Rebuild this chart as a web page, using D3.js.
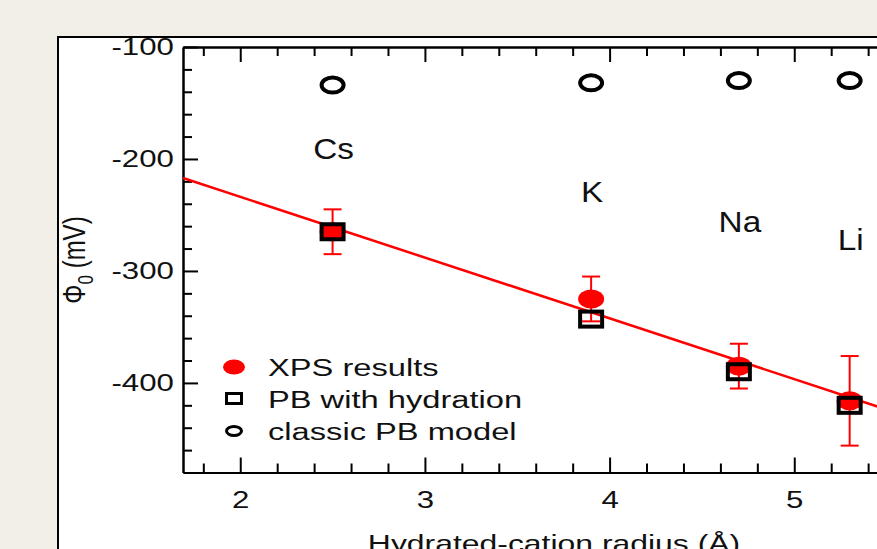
<!DOCTYPE html>
<html>
<head>
<meta charset="utf-8">
<script src="https://cdn.jsdelivr.net/npm/d3@7"></script>
<style>
  body { margin: 0; background: #f2efe9; }
  svg { display: block; font-family: "Liberation Sans", Arial, sans-serif; }
</style>
</head>
<body>
<div id="chart"></div>
<script>
// data
let ions = ["Cs", "K", "Na", "Li"];
let radius = [2.5, 3.9, 4.7, 5.3];
let xps = [-265, -325, -385, -416];
let xpsErr = [20, 20, 20, 40];
let pbHydration = [-265, -343, -390, -420];
let pbClassic = [-134, -132, -130, -130];
let fitX = [1.69, 5.8];
let fitY = [-217, -440];
let xTicks = [2, 3, 4, 5];
let yTicks = [-100, -200, -300, -400];
let ionLabelY = [-200, -238, -265, -281];
let legendNames = ["XPS results", "PB with hydration", "classic PB model"];

let width = 877, height = 549;

let svg = d3.select("#chart").append("svg")
  .attr("width", width)
  .attr("height", height);

// white figure panel
svg.append("rect")
  .attr("x", 58).attr("y", 37)
  .attr("width", 900).attr("height", 600)
  .attr("fill", "white")
  .attr("stroke", "black")
  .attr("stroke-width", 2);

let x = d3.scaleLinear().domain([1.69, 5.8]).range([183, 942]);
let y = d3.scaleLinear().domain([-480, -100]).range([472.5, 47]);

let xMinor = d3.range(1.8, 5.8, 0.2).filter(v => Math.abs(v - Math.round(v)) > 0.01);
let yMinor = d3.range(-460, -100, 20).filter(v => v % 100 != 0);

function styleAxis(g) {
  g.selectAll("path").attr("stroke-width", 2);
  g.selectAll("line").attr("stroke-width", 2);
}

// bottom axis
let gx = svg.append("g").attr("transform", "translate(0," + y(-480) + ")");
gx.call(d3.axisBottom(x).tickValues(xTicks).tickSize(-15).tickSizeOuter(0).tickPadding(18).tickFormat(d => String(d)))
  .call(styleAxis);
gx.selectAll("text").attr("font-size", 24).attr("font-family", "Liberation Sans, Arial, sans-serif")
  .attr("fill", "#111").attr("transform", "scale(1.3,1)");
svg.append("g").attr("transform", "translate(0," + y(-480) + ")")
  .call(d3.axisBottom(x).tickValues(xMinor).tickSize(-9).tickSizeOuter(0).tickFormat(""))
  .call(styleAxis);

// top axis
svg.append("g").attr("transform", "translate(0," + y(-100) + ")")
  .call(d3.axisTop(x).tickValues(xTicks).tickSize(-15).tickSizeOuter(0).tickFormat(""))
  .call(styleAxis);
svg.append("g").attr("transform", "translate(0," + y(-100) + ")")
  .call(d3.axisTop(x).tickValues(xMinor).tickSize(-9).tickSizeOuter(0).tickFormat(""))
  .call(styleAxis);

// left axis
let gy = svg.append("g").attr("transform", "translate(" + x(1.69) + ",0)");
gy.call(d3.axisLeft(y).tickValues(yTicks).tickSize(-15).tickSizeOuter(0).tickPadding(7).tickFormat(d => String(d)))
  .call(styleAxis);
gy.selectAll("text").attr("font-size", 24).attr("font-family", "Liberation Sans, Arial, sans-serif")
  .attr("fill", "#111").attr("transform", "scale(1.3,1)");
svg.append("g").attr("transform", "translate(" + x(1.69) + ",0)")
  .call(d3.axisLeft(y).tickValues(yMinor).tickSize(-9).tickSizeOuter(0).tickFormat(""))
  .call(styleAxis);

// axis titles
svg.append("text")
  .attr("transform", "translate(554,552) scale(1.33,1)")
  .attr("text-anchor", "middle")
  .attr("font-size", 24)
  .attr("fill", "#111")
  .text("Hydrated-cation radius (Å)");

let yl = svg.append("text")
  .attr("transform", "translate(85,260) scale(1.3,1) rotate(-90)")
  .attr("text-anchor", "middle")
  .attr("font-size", 24)
  .attr("fill", "#111");
yl.append("tspan").text("Φ");
yl.append("tspan").attr("font-size", 17).attr("dy", 6).text("0");
yl.append("tspan").attr("dy", -6).text(" (mV)");

// fitted line
svg.append("path")
  .datum(d3.zip(fitX, fitY))
  .attr("d", d3.line().x(d => x(d[0])).y(d => y(d[1])))
  .attr("stroke", "#ff0000")
  .attr("stroke-width", 2.5)
  .attr("fill", "none");

let pts = ions.map((n, i) => ({
  name: n, r: radius[i], xps: xps[i], err: xpsErr[i],
  pb: pbHydration[i], cl: pbClassic[i], ly: ionLabelY[i]
}));

// error bars
let eb = svg.append("g").attr("stroke", "#ff0000").attr("stroke-width", 2);
eb.selectAll(".v").data(pts).enter().append("line")
  .attr("x1", d => x(d.r)).attr("x2", d => x(d.r))
  .attr("y1", d => y(d.xps + d.err)).attr("y2", d => y(d.xps - d.err));
eb.selectAll(".t").data(pts).enter().append("line")
  .attr("x1", d => x(d.r) - 9).attr("x2", d => x(d.r) + 9)
  .attr("y1", d => y(d.xps + d.err)).attr("y2", d => y(d.xps + d.err));
eb.selectAll(".b").data(pts).enter().append("line")
  .attr("x1", d => x(d.r) - 9).attr("x2", d => x(d.r) + 9)
  .attr("y1", d => y(d.xps - d.err)).attr("y2", d => y(d.xps - d.err));

// XPS points
svg.selectAll(".xps").data(pts).enter().append("ellipse")
  .attr("cx", d => x(d.r)).attr("cy", d => y(d.xps))
  .attr("rx", 13).attr("ry", 9.5)
  .attr("fill", "#ff0000");

// PB with hydration
svg.selectAll(".pb").data(pts).enter().append("rect")
  .attr("x", d => x(d.r) - 11).attr("y", d => y(d.pb) - 7.5)
  .attr("width", 22).attr("height", 15)
  .attr("fill", "none")
  .attr("stroke", "black")
  .attr("stroke-width", 4);

// classic PB
svg.selectAll(".cl").data(pts).enter().append("ellipse")
  .attr("cx", d => x(d.r)).attr("cy", d => y(d.cl))
  .attr("rx", 11).attr("ry", 7.5)
  .attr("fill", "none")
  .attr("stroke", "black")
  .attr("stroke-width", 4);

// ion labels
svg.selectAll(".ion").data(pts).enter().append("text")
  .attr("transform", d => "translate(" + (x(d.r) + 1) + "," + y(d.ly) + ") scale(1.15,1)")
  .attr("text-anchor", "middle")
  .attr("font-size", 29)
  .attr("fill", "#111")
  .text(d => d.name);

// legend
let leg = svg.append("g").attr("transform", "translate(234,367)");
leg.append("ellipse").attr("cx", 0).attr("cy", 0).attr("rx", 11).attr("ry", 7.5).attr("fill", "#ff0000");
leg.append("rect").attr("x", -7.5).attr("y", 31.5 - 5).attr("width", 15).attr("height", 10)
  .attr("fill", "none").attr("stroke", "black").attr("stroke-width", 3);
leg.append("ellipse").attr("cx", 0).attr("cy", 64).attr("rx", 7.5).attr("ry", 4.5)
  .attr("fill", "none").attr("stroke", "black").attr("stroke-width", 3);
leg.selectAll("text").data(legendNames).enter().append("text")
  .attr("transform", (d, i) => "translate(34," + (9 + i * 32) + ") scale(1.42,1)")
  .attr("font-size", 23)
  .attr("fill", "#111")
  .text(d => d);
</script>
</body>
</html>
